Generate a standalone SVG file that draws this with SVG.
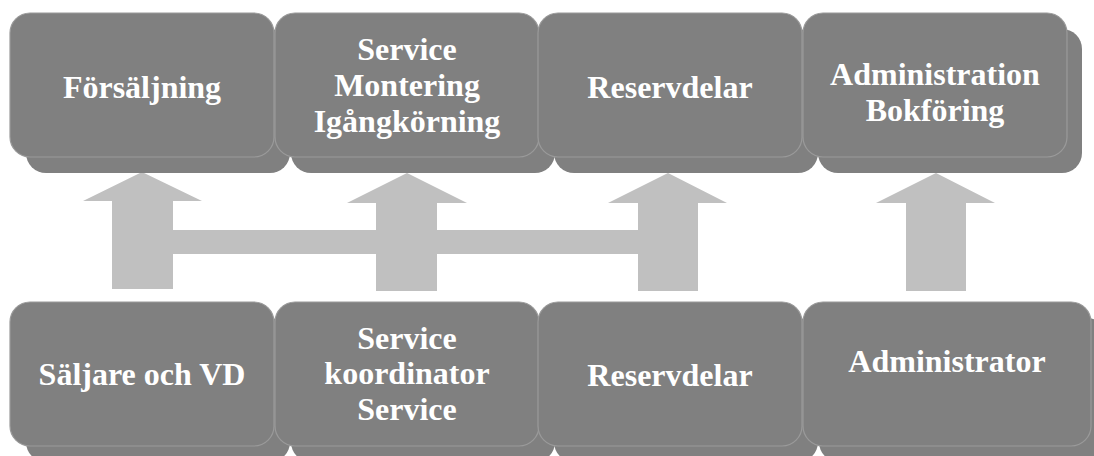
<svg xmlns="http://www.w3.org/2000/svg" width="1094" height="456" viewBox="0 0 1094 456">
<style>
.sh{fill:#808080}
.fr{fill:#808080;stroke:#9a9a9a;stroke-width:1.2}
.ar{fill:#c0c0c0}
.t{font-family:"Liberation Serif","Times New Roman",serif;font-weight:bold;font-size:32px;fill:#ffffff;text-anchor:middle}
</style>
<rect width="1094" height="456" fill="#ffffff"/>
<g id="connectors">
<polygon class="ar" points="142,172 202,201 173,201 173,289 112,289 112,201 83,201"/>
<rect class="ar" x="172" y="230" width="467" height="24"/>
<polygon class="ar" points="407,173 467,203 437,203 437,291 376,291 376,203 347,203"/>
<polygon class="ar" points="668,173 727,203 698,203 698,291 638,291 638,203 608,203"/>
<polygon class="ar" points="936,173 995,203 966,203 966,291 906,291 906,203 876,203"/>
</g>
<g id="top-forsaljning">
<rect class="sh" x="26" y="29" width="264" height="144" rx="20"/>
<rect class="fr" x="10" y="13" width="264" height="144" rx="20"/>
<text class="t" x="142" y="98">Försäljning</text>
</g>
<g id="top-service">
<rect class="sh" x="291" y="29" width="264" height="144" rx="20"/>
<rect class="fr" x="275" y="13" width="264" height="144" rx="20"/>
<text class="t" x="407" y="60">Service</text>
<text class="t" x="407" y="96">Montering</text>
<text class="t" x="407" y="132">Igångkörning</text>
</g>
<g id="top-reservdelar">
<rect class="sh" x="554" y="29" width="264" height="144" rx="20"/>
<rect class="fr" x="538" y="13" width="264" height="144" rx="20"/>
<text class="t" x="670" y="98">Reservdelar</text>
</g>
<g id="top-administration">
<rect class="sh" x="818" y="29" width="264" height="144" rx="20"/>
<rect class="fr" x="803" y="13" width="264" height="144" rx="20"/>
<text class="t" x="935" y="85">Administration</text>
<text class="t" x="935" y="121">Bokföring</text>
</g>
<g id="bottom-saljare">
<rect class="sh" x="26" y="318" width="264" height="144" rx="20"/>
<rect class="fr" x="10" y="302" width="264" height="144" rx="20"/>
<text class="t" x="142" y="385">Säljare och VD</text>
</g>
<g id="bottom-servicekoordinator">
<rect class="sh" x="291" y="318" width="264" height="144" rx="20"/>
<rect class="fr" x="275" y="302" width="264" height="144" rx="20"/>
<text class="t" x="407" y="349">Service</text>
<text class="t" x="407" y="384">koordinator</text>
<text class="t" x="407" y="420">Service</text>
</g>
<g id="bottom-reservdelar">
<rect class="sh" x="554" y="318" width="264" height="144" rx="20"/>
<rect class="fr" x="538" y="302" width="264" height="144" rx="20"/>
<text class="t" x="670" y="386">Reservdelar</text>
</g>
<g id="bottom-administrator">
<rect class="sh" x="819" y="318" width="288" height="144" rx="20"/>
<rect class="fr" x="803" y="302" width="288" height="144" rx="20"/>
<text class="t" x="947" y="372">Administrator</text>
</g>
</svg>
